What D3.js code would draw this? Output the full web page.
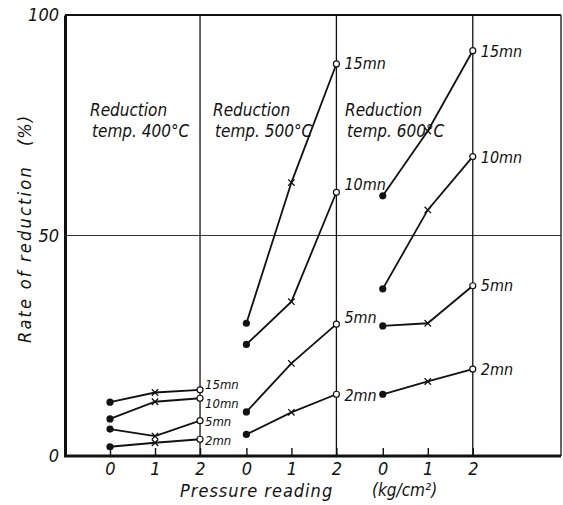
<!DOCTYPE html>
<html>
<head>
<meta charset="utf-8">
<script src="https://cdn.jsdelivr.net/npm/d3@7"></script>
<style>
  html, body { margin: 0; padding: 0; background: #fff; }
  svg text { font-family: "DejaVu Sans Condensed", "DejaVu Sans", sans-serif; font-stretch: condensed; font-style: italic; fill: #111; }
</style>
</head>
<body>
<svg id="chart" width="563" height="505"></svg>
<script>
// Reduction temperature groups and pressure readings (kg/cm²)
const groups = ["400°C", "500°C", "600°C"];
const pressures = [0, 1, 2];
const durations = ["15mn", "10mn", "5mn", "2mn"];
const yTicks = [0, 50, 100];

// Rate of reduction (%) per duration, one array per temperature group, by pressure 0,1,2
const rate400 = [[12.2, 14.4, 15.0], [8.4, 12.3, 13.1], [6.1, 4.5, 8.0], [2.1, 3.0, 3.8]];
const rate500 = [[30.1, 62.0, 88.9], [25.3, 35.0, 59.8], [10.0, 21.0, 29.9], [4.9, 9.9, 14.0]];
const rate600 = [[59.0, 73.7, 91.9], [37.9, 55.8, 67.9], [29.5, 30.1, 38.6], [14.0, 16.9, 19.7]];
const rates = [rate400, rate500, rate600];

const svg = d3.select("#chart");
const plotL = 65, plotR = 561, plotT = 15, plotB = 456;

// each group occupies three pressure steps; groups are laid side by side
const groupStep = 3.03;
const pos = (g, p) => g * groupStep + p;
const x = d3.scaleLinear().domain([-1, 10.02]).range([plotL, plotR]);
const y = d3.scaleLinear().domain([0, 100]).range([plotB, plotT]);

// 50 % gridline
svg.append("line")
  .attr("x1", plotL).attr("x2", plotR)
  .attr("y1", y(50)).attr("y2", y(50))
  .attr("stroke", "#333").attr("stroke-width", 1.2);

// group separators at pressure 2
groups.forEach((g, gi) => {
  svg.append("line")
    .attr("x1", x(pos(gi, 2))).attr("x2", x(pos(gi, 2)))
    .attr("y1", plotT).attr("y2", plotB)
    .attr("stroke", "#111").attr("stroke-width", 1.3);
});

// frame
svg.append("line").attr("x1", plotL).attr("x2", plotR).attr("y1", plotT).attr("y2", plotT)
  .attr("stroke", "#111").attr("stroke-width", 2);
svg.append("line").attr("x1", plotR).attr("x2", plotR).attr("y1", plotT).attr("y2", plotB)
  .attr("stroke", "#111").attr("stroke-width", 1.3);

// x axis with inward ticks, one set per group
const xTickVals = [];
groups.forEach((g, gi) => pressures.forEach(p => xTickVals.push({ v: pos(gi, p), p })));
const xAxis = d3.axisBottom(x)
  .tickValues(xTickVals.map(d => d.v))
  .tickFormat((d, i) => xTickVals[i].p)
  .tickSizeInner(-8).tickSizeOuter(0).tickPadding(6);
const gx = svg.append("g").attr("transform", `translate(0,${plotB})`).call(xAxis);
gx.select(".domain").attr("stroke", "#111").attr("stroke-width", 3)
  .attr("d", `M${plotL - 1},0H${plotR}`);
gx.selectAll(".tick line").attr("stroke", "#111").attr("stroke-width", 1.4);
gx.selectAll(".tick text").attr("font-size", 18).attr("fill", "#111")
  .style("font-family", "'DejaVu Sans Condensed', 'DejaVu Sans', sans-serif").style("font-style", "italic");

// y axis
const yAxis = d3.axisLeft(y).tickValues(yTicks).tickSize(0).tickPadding(6);
const gy = svg.append("g").attr("transform", `translate(${plotL},0)`).call(yAxis);
gy.select(".domain").attr("stroke", "#111").attr("stroke-width", 3);
gy.selectAll(".tick text").attr("font-size", 18).attr("fill", "#111")
  .style("font-family", "'DejaVu Sans Condensed', 'DejaVu Sans', sans-serif").style("font-style", "italic");

// axis titles
svg.append("text")
  .attr("transform", `translate(31,343) rotate(-90)`)
  .attr("font-size", 18).attr("letter-spacing", 2.2)
  .text("Rate of reduction");
svg.append("text")
  .attr("transform", `translate(31,146) rotate(-90)`)
  .attr("font-size", 18).attr("letter-spacing", 1)
  .text("(%)");
svg.append("text").attr("x", 180).attr("y", 497).attr("font-size", 18).attr("letter-spacing", 1)
  .text("Pressure reading");
svg.append("text").attr("x", 372).attr("y", 496).attr("font-size", 17)
  .text("(kg/cm²)");

// group captions
const captionX = [90, 213, 345];
groups.forEach((g, gi) => {
  const t = svg.append("text").attr("x", captionX[gi]).attr("y", 116).attr("font-size", 17);
  t.append("tspan").attr("x", captionX[gi]).text("Reduction");
  t.append("tspan").attr("x", captionX[gi] + 2).attr("dy", 21).text(`temp. ${g}`);
});

// series lines and markers
const line = d3.line().x(d => x(d[0])).y(d => y(d[1]));
rates.forEach((grp, gi) => {
  grp.forEach((vals, si) => {
    const pts = vals.map((v, p) => [pos(gi, p), v]);
    svg.append("path").attr("d", line(pts))
      .attr("fill", "none").attr("stroke", "#111").attr("stroke-width", 1.8);
    // pressure 0: filled dot
    svg.append("circle").attr("cx", x(pts[0][0])).attr("cy", y(pts[0][1])).attr("r", 3.6).attr("fill", "#111");
    // pressure 1: cross
    const cx = x(pts[1][0]), cy = y(pts[1][1]), s = 3.2;
    svg.append("path")
      .attr("d", `M${cx - s},${cy - s}L${cx + s},${cy + s}M${cx - s},${cy + s}L${cx + s},${cy - s}`)
      .attr("stroke", "#111").attr("stroke-width", 1.3).attr("fill", "none");
    // pressure 2: open circle
    svg.append("circle").attr("cx", x(pts[2][0])).attr("cy", y(pts[2][1])).attr("r", 3)
      .attr("fill", "#fff").attr("stroke", "#111").attr("stroke-width", 1.2);
  });
});

// duration labels beside the pressure-2 points (vertical nudges avoid overlaps)
const labelNudge = [[-5, 5, 1, 1], [-1, -8, -7, 1], [1, 1, 0, 0]];
const labelSize = [13, 16, 16];
rates.forEach((grp, gi) => {
  grp.forEach((vals, si) => {
    svg.append("text")
      .attr("x", x(pos(gi, 2)) + (gi === 0 ? 5 : 8))
      .attr("y", y(vals[2]) + labelNudge[gi][si])
      .attr("dy", "0.35em")
      .attr("font-size", labelSize[gi])
      .text(durations[si]);
  });
});
</script>
</body>
</html>
